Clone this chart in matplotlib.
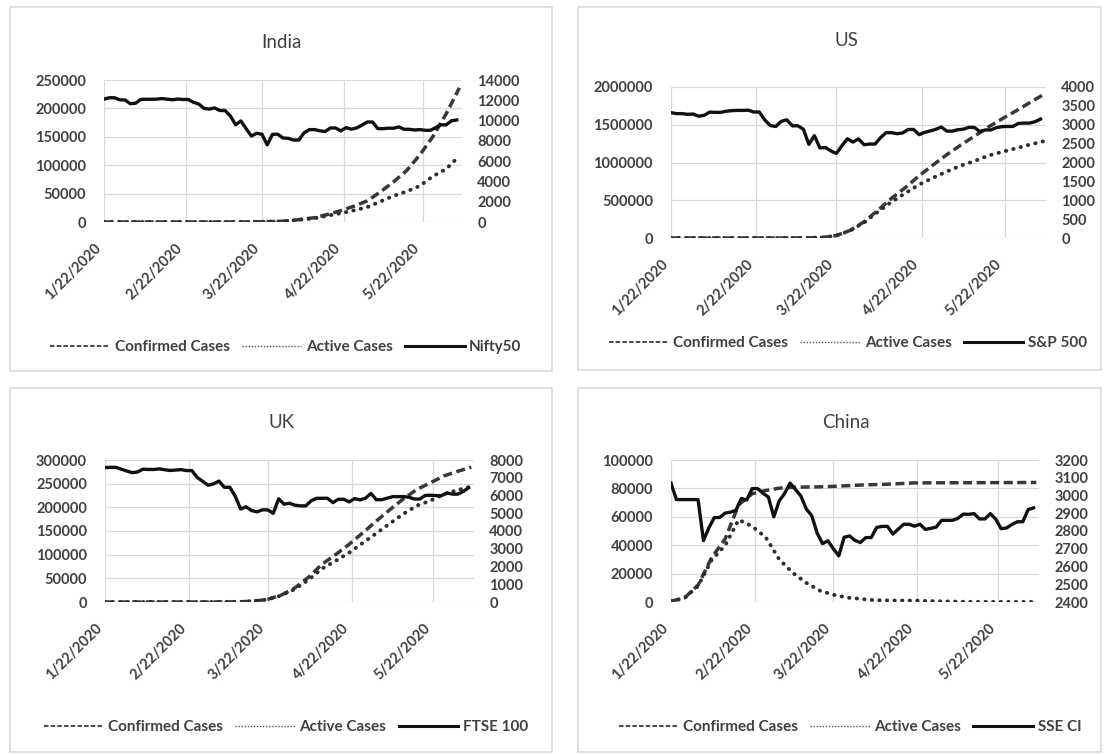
import numpy as np
import pandas as pd
import matplotlib
matplotlib.use("Agg")
from matplotlib import pyplot as plt
from matplotlib.lines import Line2D
from matplotlib.patches import Rectangle
from matplotlib.ticker import FormatStrFormatter

plt.rcParams['font.family'] = ['Lato', 'DejaVu Sans']

# ---- data -------------------------------------------------------------
start = pd.Timestamp('2020-01-22')
case_days = np.arange(0, 136, 5)     # case counts every 5 days
index_days = np.arange(0, 136, 2)    # index closes every 2 days

date_ticks = ['2020-01-22', '2020-02-22', '2020-03-22', '2020-04-22', '2020-05-22']
date_labels = ['1/22/2020', '2/22/2020', '3/22/2020', '4/22/2020', '5/22/2020']

india_confirmed = [0, 0, 1, 3, 3, 3, 3, 3, 5, 34, 73, 142, 396, 887, 1998, 4778,
                   7600, 13430, 20080, 27890, 37257, 52952, 70768, 90648, 118226,
                   150793, 190609, 236184]
india_active = [0, 0, 1, 3, 3, 3, 2, 0, 2, 31, 68, 125, 362, 796, 1815, 4281,
                6580, 11200, 15460, 20490, 26100, 36100, 45950, 53800, 63600,
                80700, 93300, 116300]
nifty50 = [12110, 12250, 12250, 12050, 12030, 11660, 11710, 12090, 12100, 12100,
           12110, 12170, 12110, 12050, 12120, 12080, 12080, 11800, 11630, 11200,
           11130, 11250, 10990, 10990, 10450, 9590, 9960, 9200, 8470, 8750,
           8650, 7610, 8640, 8660, 8280, 8250, 8080, 8080, 8790, 9110,
           9110, 8990, 8920, 9270, 9270, 8980, 9310, 9150, 9280, 9550,
           9860, 9860, 9210, 9200, 9250, 9240, 9380, 9140, 9140, 9070,
           9110, 9040, 9040, 9310, 9580, 9580, 9980, 10060]

us_confirmed = [1, 5, 8, 12, 13, 15, 15, 60, 103, 417, 1663, 6421, 33272, 101657,
                213372, 366614, 526396, 667801, 825041, 965933, 1103461, 1228603,
                1347881, 1467820, 1577147, 1681212, 1790191, 1897838]
us_active = [1, 5, 8, 12, 10, 12, 10, 53, 89, 386, 1620, 6290, 32680, 98760,
             203900, 345500, 478500, 594800, 707200, 796000, 880000, 957000,
             1019000, 1090000, 1140000, 1186000, 1236000, 1280000]
sp500 = [3321, 3295, 3295, 3276, 3284, 3226, 3249, 3334, 3328, 3328,
         3358, 3374, 3380, 3380, 3386, 3338, 3338, 3128, 2979, 2954,
         3090, 3130, 2972, 2972, 2882, 2481, 2711, 2386, 2398, 2305,
         2240, 2447, 2630, 2541, 2627, 2471, 2489, 2489, 2659, 2790,
         2790, 2762, 2783, 2875, 2875, 2737, 2798, 2837, 2878, 2940,
         2831, 2831, 2868, 2882, 2930, 2930, 2820, 2863, 2863, 2923,
         2949, 2955, 2955, 3036, 3044, 3044, 3080, 3150]

uk_confirmed = [0, 0, 2, 3, 8, 9, 9, 13, 40, 209, 459, 1960, 5741, 14745, 29865,
                52279, 79874, 100100, 122000, 146000, 171000, 195000, 218000,
                238000, 252000, 266599, 276156, 284734]
uk_active = [0, 0, 2, 3, 8, 8, 8, 12, 32, 190, 442, 1880, 5400, 13900, 27300,
             46800, 70500, 86900, 104200, 124800, 145100, 166000, 186300,
             203700, 214200, 227900, 236700, 243900]
ftse100 = [7571, 7586, 7586, 7481, 7381, 7286, 7326, 7482, 7467, 7467,
           7500, 7452, 7409, 7433, 7457, 7404, 7404, 7018, 6796, 6581,
           6654, 6815, 6463, 6463, 5960, 5237, 5366, 5151, 5080, 5191,
           5191, 4994, 5816, 5510, 5563, 5455, 5416, 5416, 5704, 5843,
           5843, 5843, 5597, 5787, 5787, 5641, 5826, 5752, 5846, 6115,
           5763, 5763, 5849, 5935, 5936, 5939, 5904, 5800, 5800, 6002,
           6015, 5993, 5993, 6144, 6077, 6077, 6220, 6440]

china_confirmed = [548, 2877, 11882, 31161, 44386, 68500, 76216, 78515, 80178,
                   80770, 80980, 81100, 81435, 81897, 82361, 82665, 82941, 83403,
                   83868, 83912, 83959, 83970, 84010, 84044, 84063, 84102, 84128,
                   84177]
china_active = [503, 2790, 11300, 29500, 39800, 57900, 53300, 45600, 30000,
                20500, 13500, 8000, 5100, 3100, 2200, 1300, 1100, 1000, 1000,
                700, 500, 300, 100, 90, 80, 60, 60, 60]
sse_ci = [3070, 2977, 2977, 2977, 2977, 2977, 2746, 2818, 2876, 2876,
          2901, 2906, 2917, 2983, 2975, 3039, 3039, 3013, 2991, 2880,
          2970, 3012, 3070, 3034, 2997, 2924, 2887, 2789, 2729, 2745,
          2700, 2660, 2765, 2772, 2747, 2735, 2763, 2763, 2820, 2826,
          2826, 2783, 2811, 2838, 2838, 2827, 2838, 2809, 2815, 2822,
          2860, 2860, 2860, 2871, 2895, 2894, 2898, 2868, 2868, 2898,
          2867, 2813, 2817, 2837, 2852, 2852, 2921, 2930]

countries = ['India', 'US', 'UK', 'China']
index_names = ['Nifty50', 'S&P 500', 'FTSE 100', 'SSE CI']
confirmed = [india_confirmed, us_confirmed, uk_confirmed, china_confirmed]
active = [india_active, us_active, uk_active, china_active]
indices = [nifty50, sp500, ftse100, sse_ci]
left_ticks = [np.arange(0, 250001, 50000), np.arange(0, 2000001, 500000),
              np.arange(0, 300001, 50000), np.arange(0, 100001, 20000)]
right_ticks = [np.arange(0, 14001, 2000), np.arange(0, 4001, 500),
               np.arange(0, 8001, 1000), np.arange(2400, 3201, 100)]

# ---- layout (pixels) --------------------------------------------------
W, H = 1108, 754
frames = [(10, 7, 552, 371), (578, 7, 1101, 370), (10, 388, 552, 752), (578, 388, 1101, 752)]
plots = [(104, 80, 462, 222), (671, 87, 1046, 238), (105, 460, 474, 602), (671, 460, 1039, 602)]
title_pos = [(281, 42), (846, 40), (281, 422), (846, 422)]
legend_pos = [(286, 347), (848, 343), (286, 727), (850, 727)]

TXT = '#404040'
GRID = '#d9d9d9'


def fig_rect(l, t, r, b):
    return [l / W, 1 - b / H, (r - l) / W, (b - t) / H]


fig = plt.figure(figsize=(W / 100, H / 100), dpi=100)
fig.patch.set_facecolor('white')

case_dates = start + pd.to_timedelta(case_days, unit='D')
index_dates = start + pd.to_timedelta(index_days, unit='D')
xticks = pd.to_datetime(date_ticks)

for i in range(4):
    fr = fig_rect(*frames[i])
    fig.patches.append(Rectangle(fr[:2], fr[2], fr[3], transform=fig.transFigure,
                                 fill=False, edgecolor=GRID, lw=1.2))

    ax = fig.add_axes(fig_rect(*plots[i]))
    ax.plot(case_dates, confirmed[i], color='#383838', lw=2.5,
            linestyle=(0, (2.6, 1.3)), zorder=3)
    ax.plot(case_dates, active[i], color='#2e2e2e', lw=2.8,
            linestyle=(0, (0.1, 1.85)), dash_capstyle='round', zorder=3)
    ax.set_xlim(start, start + pd.Timedelta(days=136))
    ax.set_ylim(left_ticks[i][0], left_ticks[i][-1])
    ax.set_yticks(left_ticks[i])
    ax.yaxis.set_major_formatter(FormatStrFormatter('%d'))
    ax.set_xticks(xticks)
    ax.set_xticklabels(date_labels, rotation=45, ha='right', va='top')
    ax.grid(True, color=GRID, lw=0.9)
    ax.set_axisbelow(True)
    ax.tick_params(axis='y', length=0, pad=13, labelsize=10.5, labelcolor=TXT)
    ax.tick_params(axis='x', length=0, pad=14, labelsize=10.5, labelcolor=TXT)
    for lab in ax.get_xticklabels() + ax.get_yticklabels():
        lab.set_fontweight('bold')
    for s in ax.spines.values():
        s.set_visible(False)

    ax2 = ax.twinx()
    ax2.plot(index_dates, indices[i], color='#111111', lw=2.4, zorder=4)
    ax2.set_ylim(right_ticks[i][0], right_ticks[i][-1])
    ax2.set_yticks(right_ticks[i])
    ax2.yaxis.set_major_formatter(FormatStrFormatter('%d'))
    ax2.tick_params(axis='y', length=0, pad=11, labelsize=10.5, labelcolor=TXT)
    for lab in ax2.get_yticklabels():
        lab.set_fontweight('bold')
    for s in ax2.spines.values():
        s.set_visible(False)

    fig.text(title_pos[i][0] / W, 1 - title_pos[i][1] / H, countries[i],
             ha='center', va='center', fontsize=13.5, color=TXT)

    handles = [Line2D([], [], color='#3c3c3c', lw=1.3, linestyle=(0, (2.5, 1.2))),
               Line2D([], [], color='#555555', lw=1.0, linestyle=(0, (1, 1.2))),
               Line2D([], [], color='#111111', lw=2.2)]
    leg = ax.legend(handles, ['Confirmed Cases', 'Active Cases', index_names[i]],
                    loc='center', ncol=3, frameon=False,
                    bbox_to_anchor=(legend_pos[i][0] / W, 1 - legend_pos[i][1] / H),
                    bbox_transform=fig.transFigure, handlelength=3.9,
                    handletextpad=0.3, columnspacing=0.8,
                    prop={'size': 11, 'weight': 'bold'})
    for t in leg.get_texts():
        t.set_color(TXT)

fig.savefig('out.png', dpi=100, facecolor='white')
